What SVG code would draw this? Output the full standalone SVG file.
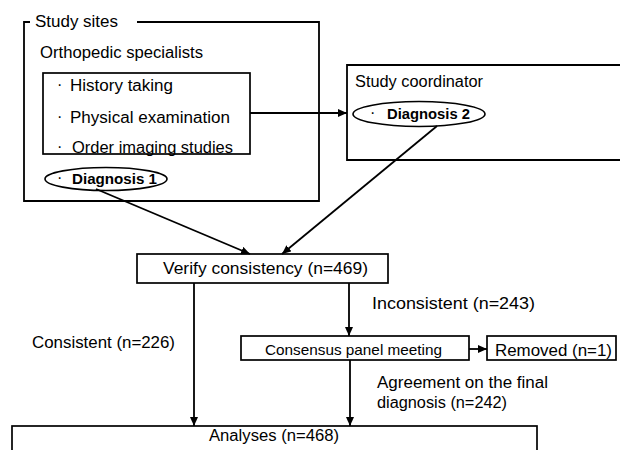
<svg xmlns="http://www.w3.org/2000/svg" width="620" height="450" viewBox="0 0 620 450">
<defs>
<marker id="arr" markerWidth="9" markerHeight="8" refX="9" refY="4" orient="auto" markerUnits="userSpaceOnUse"><path d="M0,0 L9,4 L0,8 Z" fill="#000"/></marker>
<style>
.box{fill:#fff;stroke:#000;stroke-width:1.7}
.ell{fill:#fff;stroke:#000;stroke-width:1.6}
.t{font-family:"Liberation Sans",Arial,sans-serif;font-size:16px;fill:#000}
.s{font-size:15px}
.b{font-weight:bold;font-size:15px}
.c{fill:none;stroke:#000;stroke-width:1.8}
</style>
</defs>
<rect width="620" height="450" fill="#fff"/>
<g id="study-sites">
<path class="c" d="M30,22 H24 V201 H319 V22 H137" stroke-width="1.7"/>
<text class="t" x="35" y="27" textLength="83" lengthAdjust="spacingAndGlyphs">Study sites</text>
<text class="t" x="40" y="58" textLength="163" lengthAdjust="spacingAndGlyphs">Orthopedic specialists</text>
</g>
<g id="orthopedic-tasks">
<rect class="box" x="43" y="73" width="207" height="81"/>
<text class="t" x="57" y="90">·</text>
<text class="t" x="70" y="91" textLength="103" lengthAdjust="spacingAndGlyphs">History taking</text>
<text class="t" x="57" y="122">·</text>
<text class="t" x="70" y="123" textLength="160" lengthAdjust="spacingAndGlyphs">Physical examination</text>
<text class="t" x="57" y="152">·</text>
<text class="t" x="72" y="153" textLength="161" lengthAdjust="spacingAndGlyphs">Order imaging studies</text>
</g>
<g id="diagnosis1">
<ellipse class="ell" cx="106" cy="179" rx="61" ry="11.5"/>
<text class="t" x="57" y="183">·</text>
<text class="t b" x="72" y="184" textLength="85" lengthAdjust="spacingAndGlyphs">Diagnosis 1</text>
</g>
<g id="study-coordinator">
<path class="c" d="M625,65 H347 V160 H625" stroke-width="1.7"/>
<text class="t" x="355" y="87" textLength="128" lengthAdjust="spacingAndGlyphs">Study coordinator</text>
</g>
<g id="diagnosis2">
<ellipse class="ell" cx="419" cy="114" rx="66" ry="12.5"/>
<text class="t" x="370" y="118">·</text>
<text class="t b" x="387" y="119" textLength="83" lengthAdjust="spacingAndGlyphs">Diagnosis 2</text>
</g>
<g id="verify">
<rect class="box" x="137" y="254" width="251" height="29"/>
<text class="t" x="163" y="274" textLength="205" lengthAdjust="spacingAndGlyphs">Verify consistency (n=469)</text>
</g>
<g id="consensus">
<rect class="box" x="241" y="336" width="228" height="24"/>
<text class="t s" x="265" y="355" textLength="177" lengthAdjust="spacingAndGlyphs">Consensus panel meeting</text>
</g>
<g id="removed">
<rect class="box" x="487" y="336" width="129" height="24"/>
<text class="t" x="495" y="356" textLength="117" lengthAdjust="spacingAndGlyphs">Removed (n=1)</text>
</g>
<g id="analyses">
<rect class="box" x="12" y="426" width="525" height="40"/>
<text class="t" x="209" y="441" textLength="130" lengthAdjust="spacingAndGlyphs">Analyses (n=468)</text>
</g>
<g id="connectors">
<line class="c" x1="250" y1="113" x2="347" y2="113" marker-end="url(#arr)"/>
<line class="c" x1="96" y1="189" x2="250" y2="254" marker-end="url(#arr)"/>
<line class="c" x1="437" y1="126" x2="282" y2="254" marker-end="url(#arr)"/>
<line class="c" x1="194" y1="283" x2="194" y2="426" marker-end="url(#arr)"/>
<line class="c" x1="349" y1="283" x2="349" y2="336" marker-end="url(#arr)"/>
<line class="c" x1="469" y1="349" x2="487" y2="349" marker-end="url(#arr)"/>
<line class="c" x1="350" y1="360" x2="350" y2="426" marker-end="url(#arr)"/>
</g>
<g id="labels">
<text class="t" x="372" y="309" textLength="163" lengthAdjust="spacingAndGlyphs">Inconsistent (n=243)</text>
<text class="t" x="32" y="348" textLength="143" lengthAdjust="spacingAndGlyphs">Consistent (n=226)</text>
<text class="t" x="377" y="388" textLength="171" lengthAdjust="spacingAndGlyphs">Agreement on the final</text>
<text class="t" x="377" y="408" textLength="130" lengthAdjust="spacingAndGlyphs">diagnosis (n=242)</text>
</g>
</svg>
